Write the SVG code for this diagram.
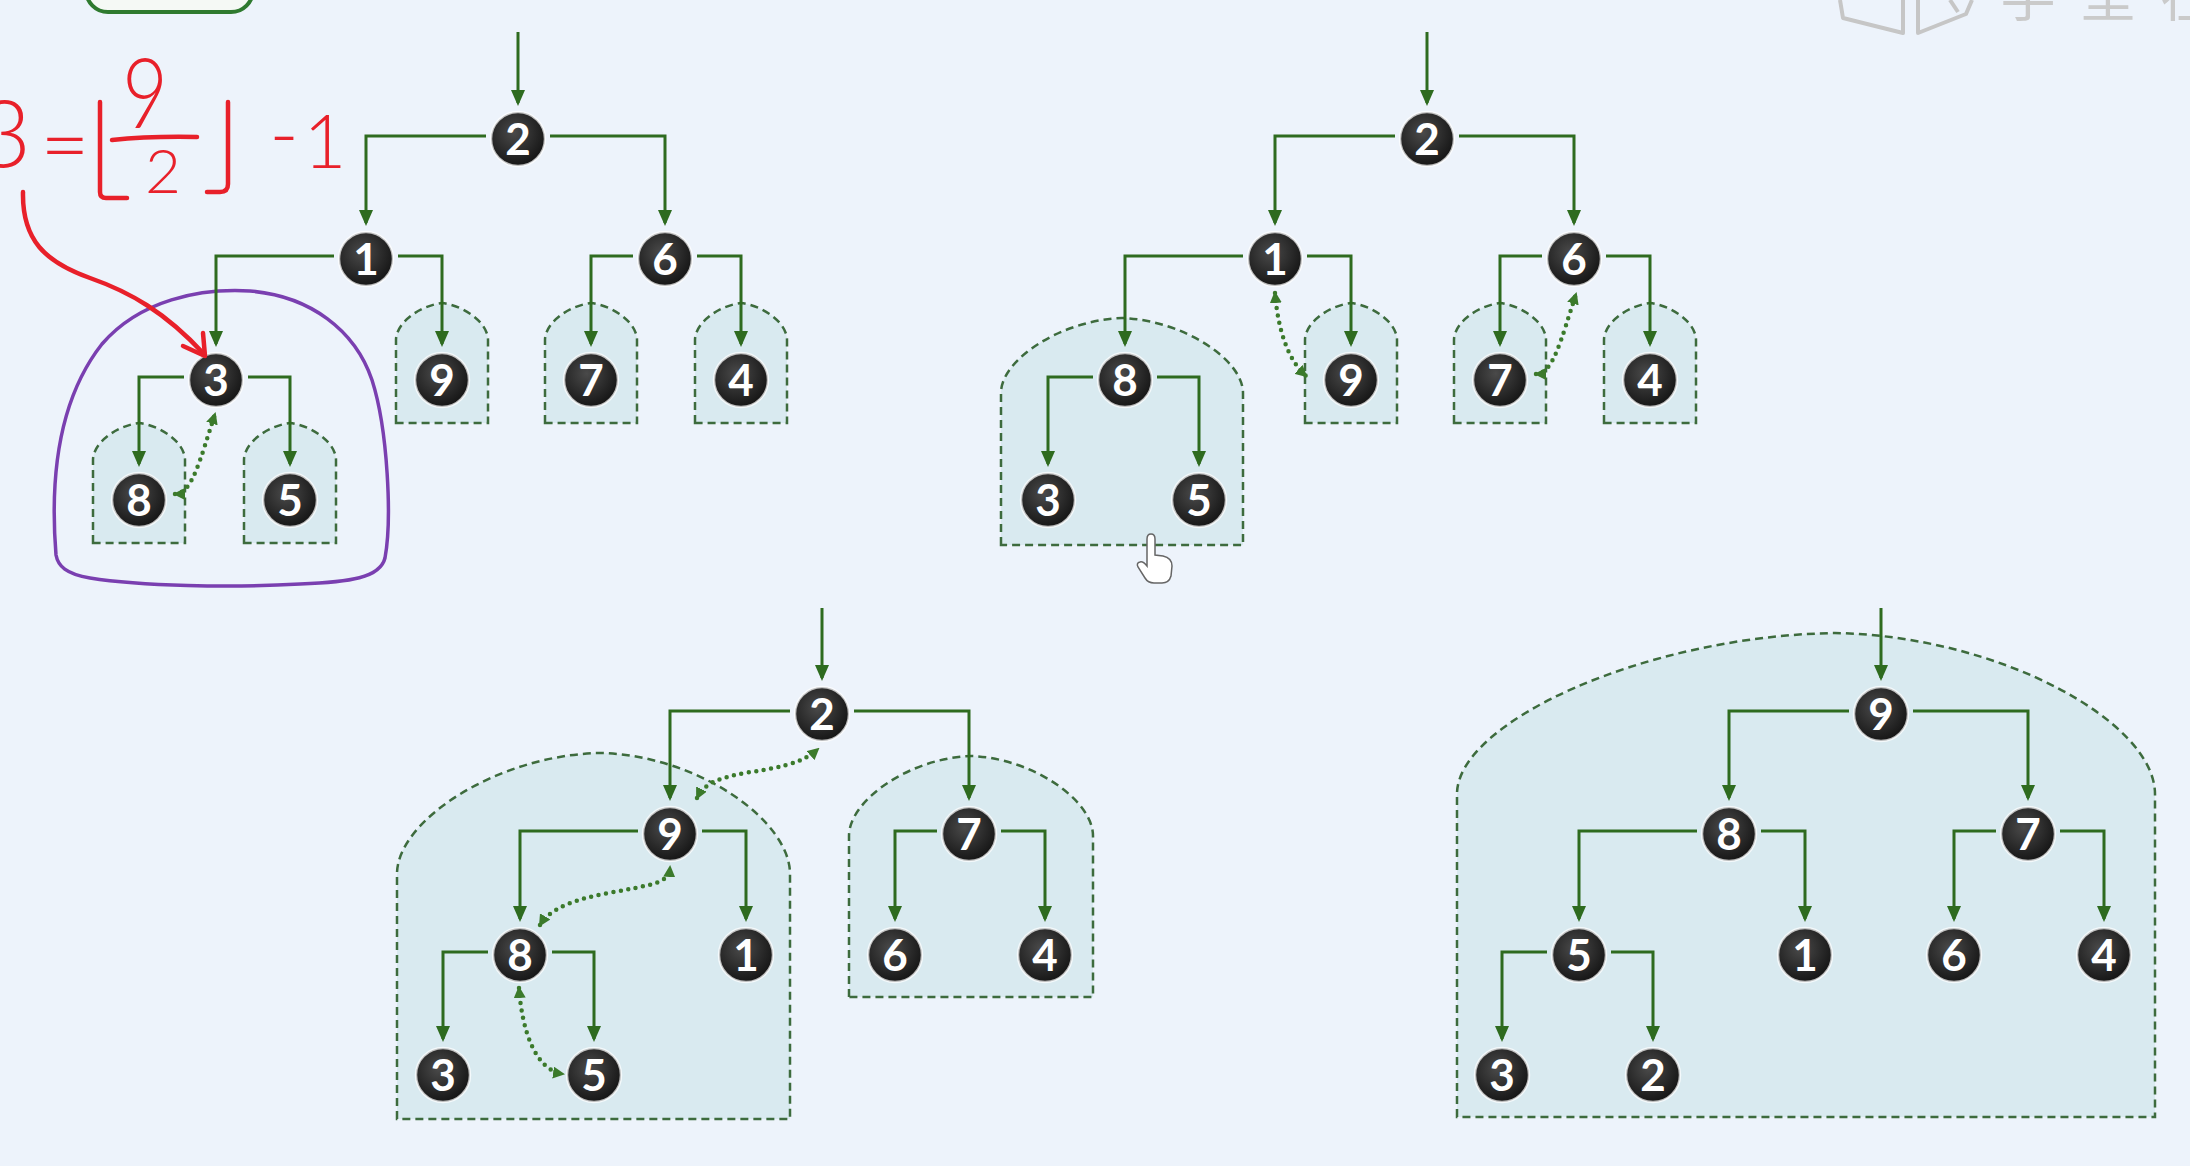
<svg xmlns="http://www.w3.org/2000/svg" width="2190" height="1166" viewBox="0 0 2190 1166">
<defs>
<style>
.arch{fill:#d9eaf0;stroke:#3d6b3d;stroke-width:2.5;stroke-dasharray:8 5}
.con{fill:none;stroke:#2e6b1f;stroke-width:3;marker-end:url(#ah)}
.dot{fill:none;stroke:#3b7a2b;stroke-width:4.5;stroke-dasharray:0 7.5;stroke-linecap:round;marker-start:url(#dh);marker-end:url(#dh)}
.node circle{fill:url(#ng);stroke:#ffffff;stroke-width:2.5;stroke-opacity:0.7}
.node text{font-family:Lato,"Open Sans","Liberation Sans",sans-serif;font-weight:700;font-size:44px;fill:#ffffff;text-anchor:middle}
.red{font-family:Lato,"Open Sans","Liberation Sans",sans-serif;font-weight:300;fill:#e8202a;text-anchor:middle}
.redl{fill:none;stroke:#e8202a;stroke-width:4.5;stroke-linecap:round;stroke-linejoin:round}
</style>
<radialGradient id="ng" cx="0.42" cy="0.38" r="0.65">
<stop offset="0" stop-color="#4a4a4a"/>
<stop offset="1" stop-color="#141414"/>
</radialGradient>
<marker id="ah" markerUnits="userSpaceOnUse" markerWidth="16" markerHeight="14" viewBox="0 0 16 14" refX="13" refY="7" orient="auto">
<path d="M0,0 L16,7 L0,14 Z" fill="#2e6b1f"/>
</marker>
<marker id="dh" markerUnits="userSpaceOnUse" markerWidth="12" markerHeight="12" viewBox="0 0 12 12" refX="10" refY="6" orient="auto-start-reverse">
<path d="M0,0 L12,6 L0,12 Z" fill="#3b7a2b"/>
</marker>
</defs>
<rect x="0" y="0" width="2190" height="1166" fill="#edf3fb"/>

<!-- top-left partial box -->
<rect x="86" y="-40" width="167" height="52" rx="22" fill="#f5f9f5" stroke="#2f7a2f" stroke-width="4"/>

<!-- watermark -->
<g id="watermark" fill="none" stroke="#c6c6c6" stroke-width="4" stroke-linejoin="round">
<path d="M1840,0 L1843,18 L1903,33 L1903,0"/>
<path d="M1918,0 L1918,33 L1966,14 L1972,0"/>
<path d="M1950,0 L1958,12"/>
</g>
<text x="2000 2080 2160" y="16" font-family="'Noto Sans CJK SC',sans-serif" font-size="56" fill="#cacaca">学堂在</text>

<!-- arches -->
<g id="arches">
<path class="arch" d="M396,423 V340 C396,323 419,306 442,303 C465,306 488,323 488,340 V423 Z"/>
<path class="arch" d="M545,423 V340 C545,323 568,306 591,303 C614,306 637,323 637,340 V423 Z"/>
<path class="arch" d="M695,423 V340 C695,323 718,306 741,303 C764,306 787,323 787,340 V423 Z"/>
<path class="arch" d="M93,543 V460 C93,443 116,426 139,423 C162,426 185,443 185,460 V543 Z"/>
<path class="arch" d="M244,543 V460 C244,443 267,426 290,423 C313,426 336,443 336,460 V543 Z"/>
<path class="arch" d="M1305,423 V340 C1305,323 1328,306 1351,303 C1374,306 1397,323 1397,340 V423 Z"/>
<path class="arch" d="M1454,423 V340 C1454,323 1477,306 1500,303 C1523,306 1546,323 1546,340 V423 Z"/>
<path class="arch" d="M1604,423 V340 C1604,323 1627,306 1650,303 C1673,306 1696,323 1696,340 V423 Z"/>
<path class="arch" d="M1001,545 V393 C1001,359 1062,320 1122,318 C1182,320 1243,359 1243,393 V545 Z"/>
<path class="arch" d="M397,1119 V874 C397,820 498,755 600,753 C697,755 790,820 790,874 V1119 Z"/>
<path class="arch" d="M849,997 V836 C849,800 910,758 971,756 C1032,758 1093,800 1093,836 V997 Z"/>
<path class="arch" d="M1457,1117 V794 C1457,722 1646,636 1835,633 C2000,636 2155,722 2155,794 V1117 Z"/>
</g>

<!-- purple loop -->
<path id="purple-loop" d="M56,555 C50,480 58,400 102,344 C140,300 200,288 250,291 C310,296 355,330 372,380 C388,430 392,520 385,558 C380,578 350,582 300,584 C230,588 140,586 90,578 C66,574 58,566 56,555 Z" fill="none" stroke="#7a3fb0" stroke-width="3.5"/>

<!-- connectors -->
<g id="connectors">
<path class="con" d="M518,32 V103"/>
<path class="con" d="M486,136 H366 V223"/>
<path class="con" d="M550,136 H665 V223"/>
<path class="con" d="M334,256 H216 V344"/>
<path class="con" d="M398,256 H442 V344"/>
<path class="con" d="M633,256 H591 V344"/>
<path class="con" d="M697,256 H741 V344"/>
<path class="con" d="M184,377 H139 V464"/>
<path class="con" d="M248,377 H290 V464"/>

<path class="con" d="M1427,32 V103"/>
<path class="con" d="M1395,136 H1275 V223"/>
<path class="con" d="M1459,136 H1574 V223"/>
<path class="con" d="M1243,256 H1125 V344"/>
<path class="con" d="M1307,256 H1351 V344"/>
<path class="con" d="M1542,256 H1500 V344"/>
<path class="con" d="M1606,256 H1650 V344"/>
<path class="con" d="M1093,377 H1048 V464"/>
<path class="con" d="M1157,377 H1199 V464"/>

<path class="con" d="M822,608 V678"/>
<path class="con" d="M790,711 H670 V798"/>
<path class="con" d="M854,711 H969 V798"/>
<path class="con" d="M638,831 H520 V919"/>
<path class="con" d="M702,831 H746 V919"/>
<path class="con" d="M937,831 H895 V919"/>
<path class="con" d="M1001,831 H1045 V919"/>
<path class="con" d="M488,952 H443 V1039"/>
<path class="con" d="M552,952 H594 V1039"/>

<path class="con" d="M1881,608 V678"/>
<path class="con" d="M1849,711 H1729 V798"/>
<path class="con" d="M1913,711 H2028 V798"/>
<path class="con" d="M1697,831 H1579 V919"/>
<path class="con" d="M1761,831 H1805 V919"/>
<path class="con" d="M1996,831 H1954 V919"/>
<path class="con" d="M2060,831 H2104 V919"/>
<path class="con" d="M1547,952 H1502 V1039"/>
<path class="con" d="M1611,952 H1653 V1039"/>

<path class="dot" d="M175,494 C192,494 200,460 215,414"/>
<path class="dot" d="M1275,293 C1278,330 1288,360 1306,376"/>
<path class="dot" d="M1536,374 C1553,374 1561,340 1576,294"/>
<path class="dot" d="M697,798 C705,782 720,778 745,773 C775,768 800,765 818,749"/>
<path class="dot" d="M540,925 C555,900 600,895 635,888 C660,883 669,880 670,867"/>
<path class="dot" d="M519,988 C522,1030 535,1070 563,1074"/>
</g>

<!-- nodes panel 1 -->
<g id="p1-n2" class="node" transform="translate(518,139)"><circle r="27"/><text y="16">2</text></g>
<g id="p1-n1" class="node" transform="translate(366,259)"><circle r="27"/><text y="16">1</text></g>
<g id="p1-n6" class="node" transform="translate(665,259)"><circle r="27"/><text y="16">6</text></g>
<g id="p1-n3" class="node" transform="translate(216,380)"><circle r="27"/><text y="16">3</text></g>
<g id="p1-n9" class="node" transform="translate(442,380)"><circle r="27"/><text y="16">9</text></g>
<g id="p1-n7" class="node" transform="translate(591,380)"><circle r="27"/><text y="16">7</text></g>
<g id="p1-n4" class="node" transform="translate(741,380)"><circle r="27"/><text y="16">4</text></g>
<g id="p1-n8" class="node" transform="translate(139,500)"><circle r="27"/><text y="16">8</text></g>
<g id="p1-n5" class="node" transform="translate(290,500)"><circle r="27"/><text y="16">5</text></g>

<!-- nodes panel 2 -->
<g id="p2-n2" class="node" transform="translate(1427,139)"><circle r="27"/><text y="16">2</text></g>
<g id="p2-n1" class="node" transform="translate(1275,259)"><circle r="27"/><text y="16">1</text></g>
<g id="p2-n6" class="node" transform="translate(1574,259)"><circle r="27"/><text y="16">6</text></g>
<g id="p2-n8" class="node" transform="translate(1125,380)"><circle r="27"/><text y="16">8</text></g>
<g id="p2-n9" class="node" transform="translate(1351,380)"><circle r="27"/><text y="16">9</text></g>
<g id="p2-n7" class="node" transform="translate(1500,380)"><circle r="27"/><text y="16">7</text></g>
<g id="p2-n4" class="node" transform="translate(1650,380)"><circle r="27"/><text y="16">4</text></g>
<g id="p2-n3" class="node" transform="translate(1048,500)"><circle r="27"/><text y="16">3</text></g>
<g id="p2-n5" class="node" transform="translate(1199,500)"><circle r="27"/><text y="16">5</text></g>

<!-- nodes panel 3 -->
<g id="p3-n2" class="node" transform="translate(822,714)"><circle r="27"/><text y="16">2</text></g>
<g id="p3-n9" class="node" transform="translate(670,834)"><circle r="27"/><text y="16">9</text></g>
<g id="p3-n7" class="node" transform="translate(969,834)"><circle r="27"/><text y="16">7</text></g>
<g id="p3-n8" class="node" transform="translate(520,955)"><circle r="27"/><text y="16">8</text></g>
<g id="p3-n1" class="node" transform="translate(746,955)"><circle r="27"/><text y="16">1</text></g>
<g id="p3-n6" class="node" transform="translate(895,955)"><circle r="27"/><text y="16">6</text></g>
<g id="p3-n4" class="node" transform="translate(1045,955)"><circle r="27"/><text y="16">4</text></g>
<g id="p3-n3" class="node" transform="translate(443,1075)"><circle r="27"/><text y="16">3</text></g>
<g id="p3-n5" class="node" transform="translate(594,1075)"><circle r="27"/><text y="16">5</text></g>

<!-- nodes panel 4 -->
<g id="p4-n9" class="node" transform="translate(1881,714)"><circle r="27"/><text y="16">9</text></g>
<g id="p4-n8" class="node" transform="translate(1729,834)"><circle r="27"/><text y="16">8</text></g>
<g id="p4-n7" class="node" transform="translate(2028,834)"><circle r="27"/><text y="16">7</text></g>
<g id="p4-n5" class="node" transform="translate(1579,955)"><circle r="27"/><text y="16">5</text></g>
<g id="p4-n1" class="node" transform="translate(1805,955)"><circle r="27"/><text y="16">1</text></g>
<g id="p4-n6" class="node" transform="translate(1954,955)"><circle r="27"/><text y="16">6</text></g>
<g id="p4-n4" class="node" transform="translate(2104,955)"><circle r="27"/><text y="16">4</text></g>
<g id="p4-n3" class="node" transform="translate(1502,1075)"><circle r="27"/><text y="16">3</text></g>
<g id="p4-n2" class="node" transform="translate(1653,1075)"><circle r="27"/><text y="16">2</text></g>

<!-- red formula -->
<g id="formula">
<text class="red" x="4" y="167" font-size="93">3</text>
<text class="red" x="65" y="175" font-size="85">=</text>
<path class="redl" d="M100,102 V192 Q100,198 106,198 H127"/>
<text class="red" transform="translate(145,128) scale(0.82,1)" font-size="96">9</text>
<path class="redl" d="M112,140 Q150,136 197,137"/>
<text class="red" x="163" y="193" font-size="62" font-weight="400">2</text>
<path class="redl" d="M228,102 V184 Q228,192 220,192 H207"/>
<text class="red" x="284" y="162" font-size="80">-</text>
<text class="red" x="325" y="168" font-size="74">1</text>
<path class="redl" d="M23,192 C22,240 45,262 90,278 C130,292 165,312 204,354"/>
<path class="redl" d="M183,346 L205,356 L203,333"/>
</g>

<!-- cursor -->
<path id="cursor" d="M1147,562 L1147,539 Q1147,534 1151,534 Q1155,534 1155,539 L1155,555 L1163,556 Q1172,558 1172,566 L1171,576 Q1169,583 1162,583 L1154,583 Q1148,583 1145,578 L1138,567 Q1136,563 1140,562 Q1143,561 1147,566 Z" fill="#ffffff" stroke="#666666" stroke-width="1.5"/>
</svg>
